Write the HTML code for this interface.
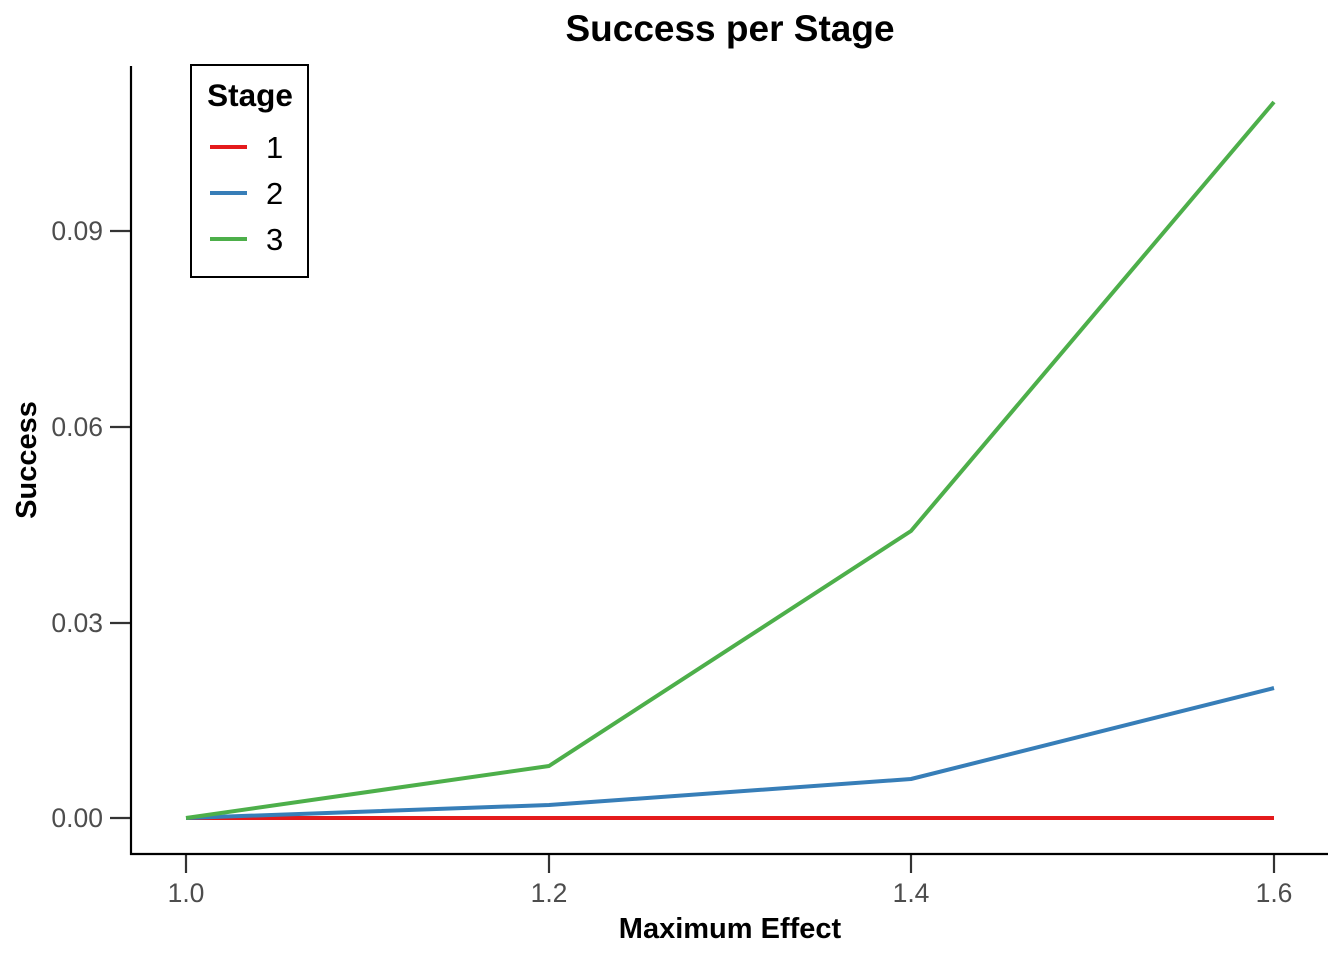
<!DOCTYPE html>
<html><head><meta charset="utf-8"><style>body{margin:0;background:#fff}svg{display:block}</style></head>
<body>
<svg width="1344" height="960" viewBox="0 0 1344 960" xmlns="http://www.w3.org/2000/svg" font-family="'Liberation Sans', Arial, sans-serif">
<rect width="1344" height="960" fill="#fff"/>
<text x="730" y="41" text-anchor="middle" font-size="37" font-weight="bold">Success per Stage</text>
<g stroke="#333" stroke-width="2.2">
<line x1="110" y1="818" x2="131" y2="818"/><line x1="110" y1="623" x2="131" y2="623"/><line x1="110" y1="427" x2="131" y2="427"/><line x1="110" y1="231" x2="131" y2="231"/>
<line x1="186" y1="854" x2="186" y2="873"/><line x1="549" y1="854" x2="549" y2="873"/><line x1="911" y1="854" x2="911" y2="873"/><line x1="1274" y1="854" x2="1274" y2="873"/>
</g>
<g stroke="#000" stroke-width="2.2"><line x1="131" y1="66" x2="131" y2="855"/><line x1="130" y1="854" x2="1328" y2="854"/></g>
<g font-size="26.5" fill="#4d4d4d" text-anchor="end">
<text x="103" y="827">0.00</text><text x="103" y="632">0.03</text><text x="103" y="436">0.06</text><text x="103" y="240">0.09</text></g>
<g font-size="26.5" fill="#4d4d4d" text-anchor="middle">
<text x="186" y="902">1.0</text><text x="549" y="902">1.2</text><text x="911" y="902">1.4</text><text x="1274" y="902">1.6</text></g>
<text x="730" y="938" text-anchor="middle" font-size="29" font-weight="bold">Maximum Effect</text>
<text transform="translate(36,460) rotate(-90)" text-anchor="middle" font-size="29" font-weight="bold">Success</text>
<g fill="none" stroke-width="4" stroke-linejoin="round">
<polyline stroke="#E41A1C" points="186,818 549,818 911,818 1274,818"/>
<polyline stroke="#377EB8" points="186,818 549,805 911,779 1274,688"/>
<polyline stroke="#4DAF4A" points="186,818 549,766 911,531 1274,102"/>
</g>
<rect x="191" y="65" width="117" height="212" fill="#fff" stroke="#000" stroke-width="2"/>
<text x="250" y="106" text-anchor="middle" font-size="31.5" font-weight="bold">Stage</text>
<g stroke-width="4"><line x1="210" y1="147" x2="247" y2="147" stroke="#E41A1C"/><line x1="210" y1="193" x2="247" y2="193" stroke="#377EB8"/><line x1="210" y1="239" x2="247" y2="239" stroke="#4DAF4A"/></g>
<g font-size="31"><text x="266" y="158">1</text><text x="266" y="204">2</text><text x="266" y="250">3</text></g>
</svg>
</body></html>
